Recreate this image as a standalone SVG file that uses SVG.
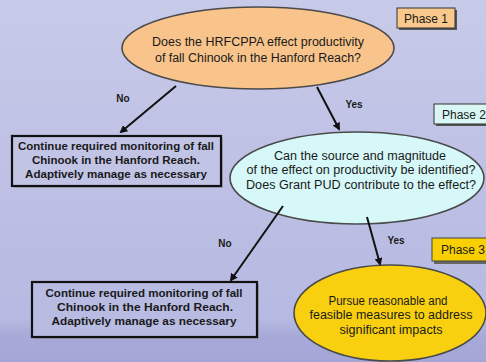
<svg xmlns="http://www.w3.org/2000/svg" width="486" height="362" viewBox="0 0 486 362">
<defs>
<linearGradient id="bg" x1="0" y1="0" x2="0" y2="1">
<stop offset="0" stop-color="#c8cae9"/>
<stop offset="0.88" stop-color="#b6b9e1"/>
<stop offset="0.93" stop-color="#a7aad8"/>
<stop offset="1" stop-color="#a4a7d6"/>
</linearGradient>
<marker id="ah" markerWidth="8" markerHeight="8" refX="6" refY="4" orient="auto" markerUnits="userSpaceOnUse">
<path d="M0,0 L8,4 L0,8 Z" fill="#111"/>
</marker>
</defs>
<style>
.t{font-family:"Liberation Sans",Arial,sans-serif;fill:#1a1a1a;text-anchor:middle}
.q{font-size:12px}
.b{font-size:11.5px;font-weight:bold}
.lbl{font-size:10px;font-weight:bold}
.ph{font-size:12px}
.ell{stroke:#4a4a4a;stroke-width:1.6}
.con{stroke:#111;stroke-width:2;fill:none;marker-end:url(#ah)}
</style>
<rect width="486" height="362" fill="url(#bg)"/>

<g id="phase1">
<rect x="399" y="10" width="58" height="20" fill="#555"/>
<rect x="397" y="8" width="58" height="20" fill="#f8c88c" stroke="#333" stroke-width="1"/>
<text class="t ph" x="426" y="22.5">Phase 1</text>
</g>
<g id="phase2">
<rect x="436" y="106" width="52" height="20" fill="#555"/>
<rect x="434" y="104" width="54" height="20" fill="#d8f6f4" stroke="#333" stroke-width="1"/>
<text class="t ph" x="464" y="118.5">Phase 2</text>
</g>
<g id="phase3">
<rect x="434" y="240" width="54" height="24" fill="#666"/>
<rect x="432" y="238" width="56" height="23" fill="#f8d000" stroke="#444" stroke-width="1"/>
<text class="t ph" x="463" y="254">Phase 3</text>
</g>

<g id="q1">
<ellipse cx="258" cy="48" rx="136" ry="41" class="ell" fill="#f8c48c"/>
<text class="t q" x="258" y="46" textLength="212" lengthAdjust="spacingAndGlyphs">Does the HRFCPPA effect productivity</text>
<text class="t q" x="258" y="62" textLength="206" lengthAdjust="spacingAndGlyphs">of fall Chinook in the Hanford Reach?</text>
</g>

<g id="box1">
<rect x="14" y="138" width="209" height="50" fill="#888" opacity="0.5"/>
<rect x="12" y="136" width="209" height="50" fill="#c2c4e6" stroke="#111" stroke-width="2.2"/>
<text class="t b" x="116" y="150" textLength="196" lengthAdjust="spacingAndGlyphs">Continue required monitoring of fall</text>
<text class="t b" x="116" y="164" textLength="168" lengthAdjust="spacingAndGlyphs">Chinook in the Hanford Reach.</text>
<text class="t b" x="116" y="178" textLength="182" lengthAdjust="spacingAndGlyphs">Adaptively manage as necessary</text>
</g>

<g id="q2">
<ellipse cx="357" cy="178" rx="127" ry="46" class="ell" fill="#d6f8f8"/>
<text class="t q" x="360" y="159.5" textLength="172" lengthAdjust="spacingAndGlyphs">Can the source and magnitude</text>
<text class="t q" x="361" y="173.5" textLength="229" lengthAdjust="spacingAndGlyphs">of the effect on productivity be identified?</text>
<text class="t q" x="361" y="189" textLength="230" lengthAdjust="spacingAndGlyphs">Does Grant PUD contribute to the effect?</text>
</g>

<g id="box2">
<rect x="34" y="284" width="225" height="55" fill="#888" opacity="0.5"/>
<rect x="32" y="282" width="225" height="55" fill="#b8bbe2" stroke="#111" stroke-width="2.2"/>
<text class="t b" x="144" y="297" textLength="197" lengthAdjust="spacingAndGlyphs">Continue required monitoring of fall</text>
<text class="t b" x="145" y="311" textLength="176" lengthAdjust="spacingAndGlyphs">Chinook in the Hanford Reach.</text>
<text class="t b" x="144" y="325" textLength="185" lengthAdjust="spacingAndGlyphs">Adaptively manage as necessary</text>
</g>

<g id="action">
<ellipse cx="390" cy="313" rx="96" ry="48" class="ell" fill="#f8d010"/>
<text class="t q" x="388" y="305" textLength="119" lengthAdjust="spacingAndGlyphs">Pursue reasonable and</text>
<text class="t q" x="391" y="319" textLength="163" lengthAdjust="spacingAndGlyphs">feasible measures to address</text>
<text class="t q" x="391" y="334" textLength="103" lengthAdjust="spacingAndGlyphs">significant impacts</text>
</g>

<g id="connectors">
<line x1="176" y1="86" x2="121" y2="132" class="con"/>
<line x1="317" y1="87" x2="339" y2="129" class="con"/>
<line x1="283" y1="206" x2="231" y2="280" class="con"/>
<line x1="367" y1="217" x2="380" y2="264" class="con"/>
<text class="t lbl" x="123" y="102">No</text>
<text class="t lbl" x="354" y="108">Yes</text>
<text class="t lbl" x="225" y="247">No</text>
<text class="t lbl" x="396" y="244">Yes</text>
</g>
</svg>
